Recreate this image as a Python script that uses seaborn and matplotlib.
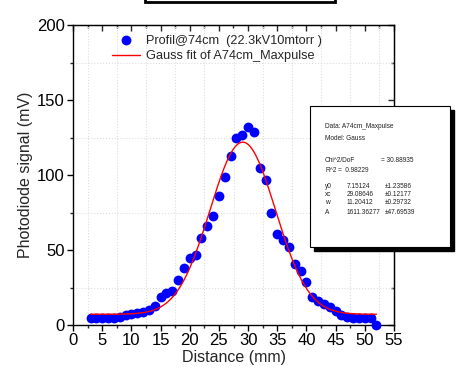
import numpy as np
import pandas as pd
import matplotlib
matplotlib.use("Agg")
import matplotlib.pyplot as plt
import seaborn as sns
from matplotlib.ticker import MultipleLocator, NullFormatter
from matplotlib.patches import Rectangle
from matplotlib import font_manager

# ---- data ----
distance = [3, 4, 5, 6, 7, 8, 9, 10, 11, 12, 13, 14, 15, 16, 17, 18, 19, 20, 21, 22,
            23, 24, 25, 26, 27, 28, 29, 30, 31, 32, 33, 34, 35, 36, 37, 38, 39, 40, 41, 42,
            43, 44, 45, 46, 47, 48, 49, 50, 51, 52]
signal = [5, 5, 5, 5, 5, 5.5, 6.5, 7.5, 8, 9, 10, 13, 18.7, 21.5, 23, 30, 38, 45, 47, 58,
          66, 73, 86, 99, 113, 125, 127, 132, 129, 105, 97, 75, 61, 57, 52, 41, 36, 29, 19, 16,
          14, 12, 9.5, 7, 5.5, 5, 5, 5, 5, 0]

# Gauss fit parameters (as reported in the fit box)
fit_y0 = 7.15124
fit_xc = 29.08646
fit_w = 11.20412
fit_A = 1611.36277
fit_range = [3, 52]

param_names = ["y0", "xc", "w", "A"]
param_values = ["7.15124", "29.08646", "11.20412", "1611.36277"]
param_errors = ["\u00b11.23586", "\u00b10.12177", "\u00b10.29732", "\u00b147.69539"]

x_ticks = [0, 5, 10, 15, 20, 25, 30, 35, 40, 45, 50, 55]
y_ticks = [0, 50, 100, 150, 200]

# ---- style ----
sns.set_style("white")
plt.rcParams['font.family'] = ['Liberation Sans', 'DejaVu Sans']

installed = {f.name for f in font_manager.fontManager.ttflist}
if "Liberation Sans Narrow" in installed:
    box_family = ["Liberation Sans Narrow", "DejaVu Sans"]
    fs = 5.5
else:
    box_family = ["Liberation Sans", "DejaVu Sans"]
    fs = 4.7

fig = plt.figure(figsize=(4.61, 3.83), dpi=100)
ax = fig.add_axes([73/461, 58/383, 321/461, 300/383])

df = pd.DataFrame({"x": distance, "y": signal})
xf = np.linspace(fit_range[0], fit_range[1], 400)
yf = fit_y0 + fit_A / (fit_w * np.sqrt(np.pi / 2)) * np.exp(-2 * ((xf - fit_xc) / fit_w) ** 2)
dff = pd.DataFrame({"x": xf, "y": yf})

sns.scatterplot(data=df, x="x", y="y", ax=ax, color="#0000ff", s=50, marker="o",
                edgecolor="#0000ff", linewidth=0, label="Profil@74cm  (22.3kV10mtorr )",
                zorder=3, clip_on=False)
sns.lineplot(data=dff, x="x", y="y", ax=ax, color="#ff0000", linewidth=1.0,
             label="Gauss fit of A74cm_Maxpulse", zorder=4)

ax.set_xlim(0, 55)
ax.set_ylim(0, 200)
ax.set_xticks(x_ticks)
ax.set_yticks(y_ticks)
ax.xaxis.set_minor_locator(MultipleLocator(2.5))
ax.yaxis.set_minor_locator(MultipleLocator(25))
ax.tick_params(axis="both", which="major", direction="out", length=4, width=1,
               labelsize=12, colors="black", pad=2)
ax.tick_params(axis="both", which="minor", direction="out", length=2.5, width=1)
ax.tick_params(axis="x", which="both", bottom=True)
ax.tick_params(axis="y", which="both", left=True)
ax.grid(which="minor", linestyle=":", color="#dddddd", linewidth=0.8)
ax.grid(which="major", visible=False)
ax.set_axisbelow(True)
for s in ax.spines.values():
    s.set_color("black")
    s.set_linewidth(1.0)

# mirrored ticks on top/right pointing inward
secx = ax.secondary_xaxis("top")
secx.set_xticks(x_ticks)
secx.xaxis.set_minor_locator(MultipleLocator(2.5))
secx.tick_params(which="major", direction="in", length=4, width=1, labeltop=False)
secx.tick_params(which="minor", direction="in", length=2.5, width=1)
secx.xaxis.set_major_formatter(NullFormatter())
secy = ax.secondary_yaxis("right")
secy.set_yticks(y_ticks)
secy.yaxis.set_minor_locator(MultipleLocator(25))
secy.tick_params(which="major", direction="in", length=4, width=1, labelright=False)
secy.tick_params(which="minor", direction="in", length=2.5, width=1)
secy.yaxis.set_major_formatter(NullFormatter())

ax.set_xlabel("Distance (mm)", fontsize=11.5, labelpad=1)
ax.set_ylabel("Photodiode signal (mV)", fontsize=11.5, labelpad=3)

leg = ax.legend(loc="upper left", bbox_to_anchor=(0.105, 0.985), frameon=False,
                fontsize=9.2, handlelength=2.2, handletextpad=0.45, labelspacing=0.3,
                borderaxespad=0)

# fit result box with shadow
fx = lambda px: px / 461
fy = lambda py: 1 - py / 383
shadow = Rectangle((fx(314), fy(251)), fx(140), 141/383, transform=fig.transFigure,
                   facecolor="black", edgecolor="black", zorder=5)
box = Rectangle((fx(310), fy(247)), fx(140), 141/383, transform=fig.transFigure,
                facecolor="white", edgecolor="black", linewidth=0.8, zorder=6)
fig.patches.extend([shadow, box])

tcol = "#222222"
kw = dict(fontsize=fs, va="center", zorder=7, color=tcol, family=box_family)
fig.text(fx(325), fy(127), "Data: A74cm_Maxpulse", **kw)
fig.text(fx(325), fy(138), "Model: Gauss", **kw)
fig.text(fx(325), fy(161), "Chi^2/DoF", **kw)
fig.text(fx(381), fy(161), "= 30.88935", **kw)
fig.text(fx(325), fy(171), "R^2", **kw)
fig.text(fx(338), fy(171), "=  0.98229", **kw)
rows_y = [186, 195, 203, 212]
for nm, v, e, yy in zip(param_names, param_values, param_errors, rows_y):
    fig.text(fx(325), fy(yy), nm, **kw)
    fig.text(fx(347), fy(yy), v, **kw)
    fig.text(fx(385), fy(yy), e, **kw)

# partially visible box at top of figure
topbox = Rectangle((fx(145), fy(2)), fx(190), 20/383, transform=fig.transFigure,
                   facecolor="white", edgecolor="black", linewidth=2.0, zorder=5)
fig.patches.append(topbox)

fig.savefig("out.png", dpi=100)
